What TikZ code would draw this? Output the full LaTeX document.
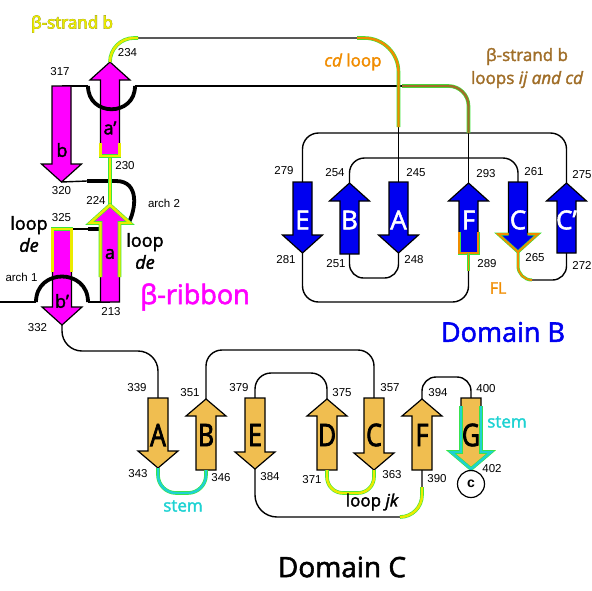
\documentclass[tikz,border=0pt]{standalone}
\usepackage{fontspec}
\setmainfont{Liberation Sans}
\newfontfamily\lab[FakeBold=2]{Open Sans}
\newfontfamily\labfb[FakeBold=4]{Open Sans}
\newfontfamily\labcond[FakeStretch=0.8,FakeBold=2.5]{Open Sans}
\pgfdeclarelayer{background}
\pgfsetlayers{background,main}

\definecolor{ribbon}{RGB}{255,0,255}
\definecolor{domb}{RGB}{0,0,240}
\definecolor{domc}{RGB}{240,190,80}
\definecolor{hlgreen}{RGB}{60,230,60}
\definecolor{hlyellow}{RGB}{235,235,0}
\definecolor{hlorange}{RGB}{240,140,0}
\definecolor{hlbrown}{RGB}{160,110,40}
\definecolor{hlcyan}{RGB}{30,210,210}
\definecolor{olivedark}{RGB}{120,120,60}

% strand arrow: [fill]{name}{x}{tail y}{tip y}
\newcommand{\sbw}{9.5}
\newcommand{\shw}{20}
\newcommand{\shl}{18}
\newcommand{\strand}[5][]{%
  \pgfmathsetmacro{\shb}{#5-sign(#5-#4)*\shl}%
  \draw[strandline,#1] (#3-\sbw,#4) -- (#3+\sbw,#4) -- (#3+\sbw,\shb) -- (#3+\shw,\shb)
    -- (#3,#5) -- (#3-\shw,\shb) -- (#3-\sbw,\shb) -- cycle;
  \coordinate (#2-tail) at (#3,#4);
  \coordinate (#2-tip) at (#3,#5);
}

\begin{document}
\begin{tikzpicture}[x=1pt,y=-1pt,
  conn/.style={line width=1.4pt},
  arch/.style={line width=3.8pt},
  strandline/.style={draw=black,line width=1.2pt,line join=miter},
  hl/.style={draw=hlgreen,line width=0.6pt,double=#1,double distance=2.4pt},
  num/.style={font=\fontsize{11.5}{12}\selectfont},
  small/.style={font=\fontsize{11.5}{12}\selectfont},
  loopl/.style={font=\lab\fontsize{18}{22}\selectfont,align=center},
  big/.style={font=\lab\fontsize{27}{30}\selectfont},
  rletter/.style={font=\lab\fontsize{18}{18}\selectfont},
  bletter/.style={font=\lab\fontsize{26}{26}\selectfont,text=white},
  cletter/.style={font=\labcond\fontsize{31}{30}\selectfont}]
  \useasboundingbox (0,0) rectangle (592,590);

  % beta-ribbon strands
  \strand[fill=ribbon]{ra}{110}{302}{205}
  \strand[fill=ribbon]{rap}{110}{156}{62}
  \strand[fill=ribbon]{rb}{61.5}{86}{182}
  \strand[fill=ribbon]{rbp}{62}{229}{325}

  % Domain B strands
  \strand[fill=domb]{bE}{302.5}{182}{253}
  \strand[fill=domb]{bB}{349.5}{254}{183}
  \strand[fill=domb]{bA}{398.5}{182}{253}
  \strand[fill=domb]{bF}{468.5}{253}{183}
  \strand[fill=domb]{bC}{518}{182}{252}
  \strand[fill=domb]{bCp}{566.5}{253}{183}

  % Domain C strands
  \renewcommand{\sbw}{10}
  \renewcommand{\shl}{17}
  \strand[fill=domc]{cA}{158}{398}{468}
  \strand[fill=domc]{cB}{206}{470}{399}
  \strand[fill=domc]{cE}{255}{398}{469}
  \strand[fill=domc]{cD}{327}{470}{399}
  \strand[fill=domc]{cC}{374}{398}{470}
  \strand[fill=domc]{cF}{422}{470}{399}
  \strand[fill=domc]{cG}{471}{398}{469}

  % Free ends and turning points
  \coordinate (nterm) at (0,302);
  \coordinate (arch1-l) at (36,302);
  \coordinate (arch1-r) at (88,302);
  \coordinate (arch0-l) at (88,86);
  \coordinate (arch0-r) at (135,86);
  \coordinate (arch2-l) at (87,181);
  \coordinate (arch2-m) at (116,181);
  \coordinate (arch2-r) at (128,224);
  \coordinate (de-l) at (88,229);
  \coordinate (de-r) at (100,229);
  \coordinate (rap-hl) at (138,38);
  \coordinate (cd-start) at (357,38);
  \coordinate (cd-end) at (398.5,127);
  \coordinate (ij-start) at (402,86);
  \coordinate (ij-end) at (468.5,133);
  \coordinate (jk-start) at (400,517);
  \coordinate (jk-end) at (422,487);

  % Chain
  \begin{pgfonlayer}{background}
    \draw[conn] (nterm) -- (arch1-l);
    \draw[conn] (arch1-r) -- (ra-tail);
    \draw[conn] (ra-tip) -- (rap-tail);
    \draw[conn,rounded corners=24] (rap-tip) |- (cd-start);
    \draw[conn] (cd-end) -- (bA-tail);
    \draw[conn] (rb-tail) -- (arch0-l);
    \draw[conn] (arch0-r) -- (ij-start);
    \draw[conn] (ij-end) -- (bF-tip);
    \draw[conn] (rb-tip) -- (arch2-l);
    \draw[conn] (rbp-tail) -- (de-l);
    \draw[conn,rounded corners=20] (rbp-tip) -- ++(0,26) -| (cA-tail);

    \draw[conn,rounded corners=16] (bE-tail) -- ++(0,-49) -| (bCp-tip);
    \draw[conn,rounded corners=15] (bB-tip) -- ++(0,-25) -| (bC-tail);
    \draw[conn,rounded corners=14] (bB-tail) -- ++(0,24) -| (bA-tip);
    \draw[conn,rounded corners=14] (bC-tip) -- ++(0,28) -| (bCp-tail);
    \draw[conn,rounded corners=16] (bE-tip) -- ++(0,49) -| (bF-tail);

    \draw[conn,rounded corners=18] (cA-tip) -- ++(0,25) -| (cB-tail);
    \draw[conn,rounded corners=16] (cB-tip) -- ++(0,-49) -| (cC-tail);
    \draw[conn,rounded corners=16] (cE-tail) -- ++(0,-25) -| (cD-tip);
    \draw[conn,rounded corners=16] (cD-tail) -- ++(0,23) -| (cC-tip);
    \draw[conn,rounded corners=22] (cE-tip) -- ++(0,48) -| (cF-tail);
    \draw[conn,rounded corners=14] (cF-tip) -- ++(0,-22) -| (cG-tail);
  \end{pgfonlayer}

  % Arches
  \draw[arch] (arch1-l) .. controls +(0,-34) and +(0,-34) .. (arch1-r);
  \draw[arch] (arch0-l) .. controls +(0,31) and +(0,31) .. (arch0-r);
  \draw[arch] (arch2-l) -- (arch2-m) .. controls +(24,0) and +(8,-14) .. (arch2-r);
  \draw[arch] (de-l) -- (de-r);

  % Highlighted segments
  \draw[hl=hlyellow] (ra-tip) -- (rap-tail);
  \draw[hl=hlyellow,rounded corners=24] (rap-tip) |- (rap-hl);
  \draw[hl=hlyellow] (100.5,143) |- (119.5,156) -- (119.5,143);
  \draw[hl=hlyellow] (100.5,277) -- (100.5,223) -- (90,223) -- (110,205) -- (130,223) -- (119.5,223) -- (119.5,277);
  \draw[hl=hlyellow] (52.5,272) |- (71.5,229) -- (71.5,272);
  \draw[hl=hlorange,rounded corners=34] (cd-start) -| (cd-end);
  \draw[hl=hlbrown,rounded corners=20] (ij-start) -| (ij-end);
  \draw[hl=hlorange,double distance=1.8pt] (459,232) |- (478,253) -- (478,232);
  \draw[hl=hlorange,double distance=1.8pt] (bF-tail) -- ++(0,18);
  \draw[hl=hlorange,double distance=1.8pt] (508.5,234) -- (498,234) -- (518,252) -- (538,234) -- (527.5,234);
  \draw[hl=hlorange,double distance=1.8pt,rounded corners=14] (bC-tip) -- ++(0,28) -- ++(14,0);
  \draw[hl=hlcyan,rounded corners=18] (cA-tip) -- ++(0,25) -| (cB-tail);
  \draw[hl=hlyellow,rounded corners=16] (cD-tail) -- ++(0,23) -| (cC-tip);
  \draw[hl=hlyellow,rounded corners=22] (jk-start) -| (jk-end);
  \draw[hl=hlcyan] (461,406) -- (461,452) -- (451,452) -- (471,469) -- (491,452) -- (481,452) -- (481,406);

  % C-terminus
  \node[draw,circle,line width=1.2pt,minimum size=27pt,inner sep=0pt,
    font=\fontsize{14}{14}\selectfont\bfseries] (cterm) at (471,484) {c};

  % Residue numbers
  \foreach \t/\x/\y in {234/127.5/53, 317/60/72, 320/61.5/191, 230/125/166,
      224/96/200, 325/61.5/218, 213/111/312, 332/37.5/328,
      279/284/171, 254/335/173, 245/416/173, 293/486/174, 261/534/172,
      275/582/175, 281/286/260, 251/336/264, 248/414/260, 289/487/264,
      265/535/258, 272/582/265,
      339/137/388, 351/190/393, 379/239/388, 375/342/393, 357/390/388,
      394/438/393, 400/486/389, 343/138/474, 346/221/478, 384/270/477,
      371/312/480, 363/392/475, 390/437/479, 402/492/469}
    \node[num] (n\t) at (\x,\y) {\t};

  % Strand letters
  \node[rletter] (rla) at (110,254) {a};
  \node[rletter] (rlap) at (110,128) {a’};
  \node[rletter] (rlb) at (62,150) {b};
  \node[rletter] (rlbp) at (62,301) {b’};
  \foreach \n/\l/\x in {E/E/302.5, B/B/349.5, A/A/398.5, F/F/468.5, C/C/518, Cp/C’/566.5}
    \node[bletter] (bl\n) at (\x,220) {\l};
  \foreach \l/\x in {A/158, B/206, E/255, D/327, C/374, F/422, G/471}
    \node[cletter] (cl\l) at (\x,435) {\l};

  % Labels
  \node[font=\fontsize{17}{18}\selectfont] (strandb) at (72,24)
    {\rlap{\color{olivedark}\labfb β-strand b}\color{hlyellow}\lab β-strand b};
  \node[loopl] (loopde1) at (29,234) {loop\\\itshape de};
  \node[loopl] (loopde2) at (145,251) {loop\\\itshape de};
  \node[small] (arch1) at (21.5,277) {arch 1};
  \node[small] (arch2) at (164,203) {arch 2};
  \node[big,text=ribbon] (ribbon) at (195,297) {β-ribbon};
  \node[font=\lab\fontsize{17}{20}\selectfont,text=hlorange] (cdloop) at (353,62) {\itshape cd\upshape\ loop};
  \node[font=\lab\fontsize{17}{23}\selectfont,text=hlbrown,align=center] (ijcd) at (527,68)
    {β-strand b\\loops \itshape ij and cd};
  \node[font=\lab\fontsize{16}{18}\selectfont,text=hlorange] (fl) at (498,288) {FL};
  \node[big,text=domb] (domainB) at (503,332) {Domain B};
  \node[font=\lab\fontsize{17}{18}\selectfont,text=hlcyan] (stem1) at (183,506) {stem};
  \node[font=\lab\fontsize{17}{18}\selectfont,text=hlcyan] (stem2) at (507,422) {stem};
  \node[font=\lab\fontsize{17}{18}\selectfont] (loopjk) at (372,502) {loop \itshape jk};
  \node[font=\lab\fontsize{28}{30}\selectfont] (domainC) at (342,567) {Domain C};
\end{tikzpicture}
\end{document}
